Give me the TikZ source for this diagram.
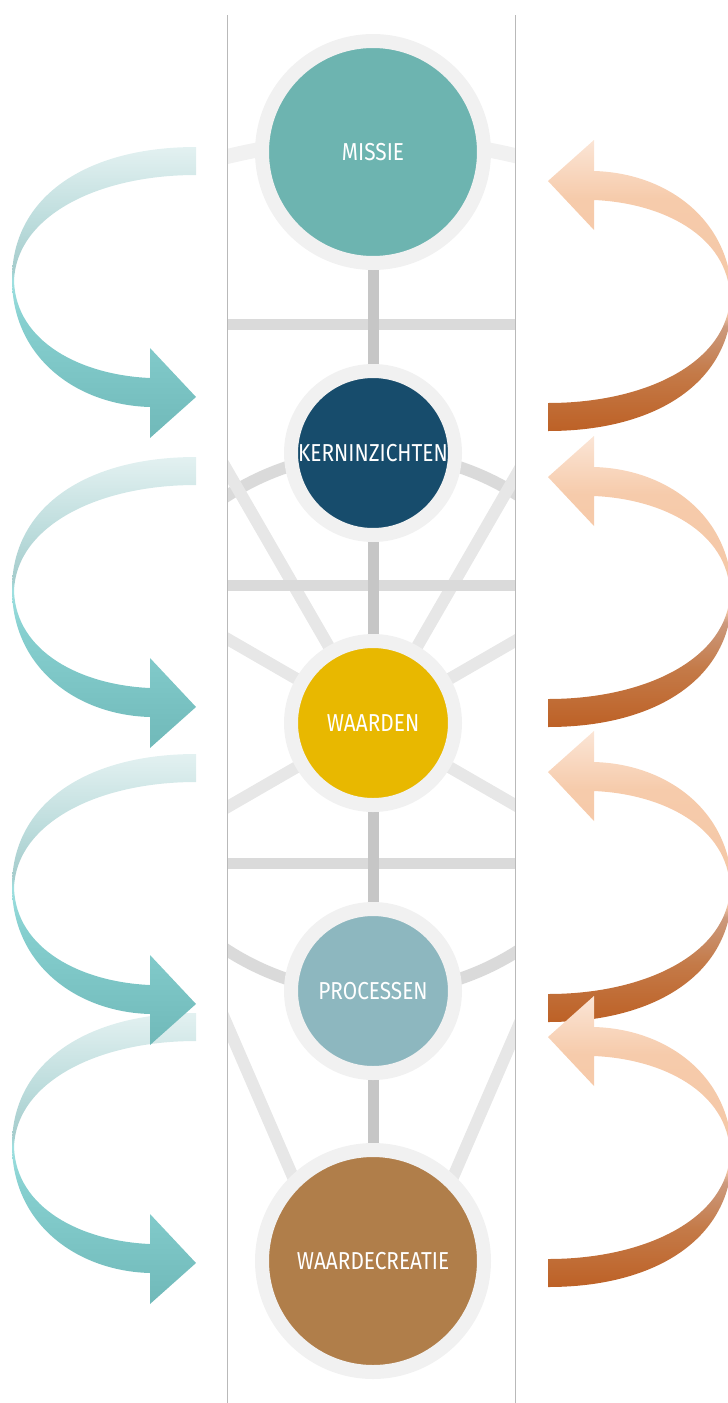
\documentclass[tikz,border=0pt]{standalone}
\usepackage{fontspec}
\usetikzlibrary{backgrounds}

\newfontfamily\discfont{Fira Sans}[FakeStretch=0.85]

\definecolor{missieteal}{RGB}{109,180,176}
\definecolor{kernblue}{RGB}{23,76,108}
\definecolor{waardengold}{RGB}{232,184,0}
\definecolor{processenblue}{RGB}{141,183,191}
\definecolor{creatiebrown}{RGB}{176,126,74}
\definecolor{ringgray}{RGB}{241,241,241}
\definecolor{stemgray}{RGB}{198,198,198}
\definecolor{bargray}{RGB}{218,218,218}
\definecolor{spokegray}{RGB}{231,231,231}
\definecolor{edgegray}{RGB}{185,185,185}

% Ribbon colours (bottom to top)
\definecolor{tealA}{RGB}{112,185,185}
\definecolor{tealB}{RGB}{134,207,207}
\definecolor{tealC}{RGB}{158,224,224}
\definecolor{tealD}{RGB}{165,204,204}
\definecolor{tealE}{RGB}{188,220,220}
\definecolor{tealF}{RGB}{227,241,241}
\definecolor{copperA}{RGB}{189,97,38}
\definecolor{copperB}{RGB}{196,122,72}
\definecolor{copperC}{RGB}{204,154,126}
\definecolor{copperD}{RGB}{244,199,166}
\definecolor{copperE}{RGB}{246,203,171}
\definecolor{copperF}{RGB}{251,229,214}

\pgfdeclareverticalshading{tealribbon}{100bp}{color(0bp)=(tealA); color(25bp)=(tealA); color(45bp)=(tealB); color(52bp)=(tealC); color(54bp)=(tealD); color(62bp)=(tealE); color(75bp)=(tealF); color(100bp)=(tealF)}
\pgfdeclareverticalshading{copperribbon}{100bp}{color(0bp)=(copperA); color(25bp)=(copperA); color(35bp)=(copperB); color(43bp)=(copperC); color(45bp)=(copperD); color(65bp)=(copperE); color(75bp)=(copperF); color(100bp)=(copperF)}

\begin{document}
\begin{tikzpicture}[x=1pt, y=-1pt,
    disc/.style={circle, draw=ringgray, line width=14pt, inner sep=0pt, text=white,
        font=\discfont\fontsize{24.5}{28}\selectfont},
    big disc/.style={disc, minimum size=222pt},
    small disc/.style={disc, minimum size=164pt}]

    % Canvas
    \useasboundingbox (0,0) rectangle (728,1403);
    \coordinate (colTL) at (227.7,15);
    \coordinate (colBL) at (227.7,1403);
    \coordinate (colTR) at (515.7,15);
    \coordinate (colBR) at (515.7,1403);
    \coordinate (apex) at (373,1362);

    % The five discs
    \node[big disc, fill=missieteal] (missie) at (373,152) {MISSIE};
    \node[small disc, fill=kernblue] (kern) at (373,453) {KERNINZICHTEN};
    \node[small disc, fill=waardengold] (waarden) at (373,723) {WAARDEN};
    \node[small disc, fill=processenblue] (processen) at (373,991) {PROCESSEN};
    \node[big disc, fill=creatiebrown] (creatie) at (373,1261) {WAARDECREATIE};

    % Grey web behind the discs, kept inside the column
    \begin{scope}[on background layer]
        \clip (colTL) rectangle (colBR);
        \draw[ringgray, line width=15pt] (373,755) ++(-106:616) arc[start angle=-106, end angle=-74, radius=616];
        \draw[bargray, line width=12pt] (waarden.center) circle[radius=270];
        \foreach \a in {30,150,210,240,300,330}
            \draw[spokegray, line width=12pt] (waarden.center) -- ++(\a:320);
        \draw[spokegray, line width=12pt] (apex) -- ++(246.6:420) (apex) -- ++(293.4:420);
        \foreach \by in {324,585,863}
            \draw[bargray, line width=11pt] (200,\by) -- (540,\by);
        \draw[stemgray, line width=11pt] (missie) -- (kern) -- (waarden) -- (processen) -- (creatie);
    \end{scope}

    % Column edges
    \draw[edgegray, line width=1pt] (colTL) -- (colBL);
    \draw[edgegray, line width=1pt] (colTR) -- (colBR);

    % Curved ribbon arrows, tip at the local origin
    \foreach \tx/\ty/\rot/\sh in {196/1263/0/tealribbon, 196/1004/0/tealribbon, 196/707/0/tealribbon, 196/397/0/tealribbon,
                                  548/181/180/copperribbon, 548/477/180/copperribbon, 548/772/180/copperribbon, 548/1037/180/copperribbon}
        \shade[shading=\sh, shift={(\tx,\ty)}, rotate=\rot]
            (0,-250) .. controls (-110,-250) and (-184,-200) .. (-184,-118)
            .. controls (-184,-40) and (-120,8) .. (-46,10)
            -- (-46,41) -- (0,0) -- (-46,-49) -- (-46,-19)
            .. controls (-115,-22) and (-180,-55) .. (-182,-116)
            .. controls (-180,-180) and (-100,-222) .. (0,-222) -- cycle;
\end{tikzpicture}
\end{document}
